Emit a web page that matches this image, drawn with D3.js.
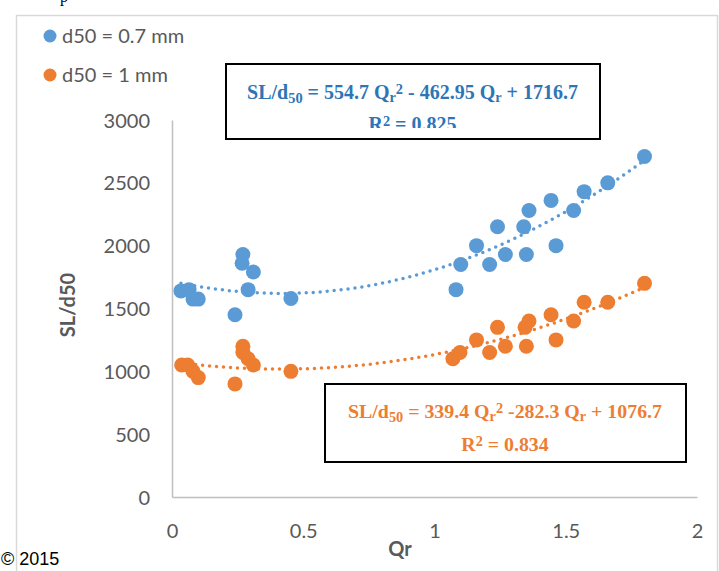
<!DOCTYPE html>
<html><head><meta charset="utf-8">
<script src="https://cdn.jsdelivr.net/npm/d3@7"></script>
<style>
html,body{margin:0;padding:0;background:#fff;}
svg{display:block;}
</style></head>
<body>
<svg id="chart" width="719" height="571"></svg>
<script>
// ---- data ----
const series = ["d50 = 0.7 mm", "d50 = 1 mm"];
const qr07 = [0.034,0.065,0.08,0.10,0.24,0.27,0.267,0.31,0.29,0.453,1.082,1.10,1.16,1.21,1.27,1.24,1.35,1.34,1.36,1.444,1.463,1.53,1.57,1.66,1.80];
const sl07 = [1640,1650,1575,1575,1450,1930,1860,1790,1650,1580,1650,1850,2000,1850,1930,2150,1930,2150,2280,2360,2000,2280,2430,2500,2710];
const qr10 = [0.037,0.06,0.08,0.10,0.24,0.27,0.27,0.29,0.31,0.453,1.07,1.097,1.16,1.21,1.27,1.24,1.35,1.345,1.36,1.444,1.463,1.53,1.57,1.66,1.80];
const sl10 = [1050,1050,1000,950,900,1200,1150,1100,1050,1000,1100,1150,1250,1150,1200,1350,1200,1350,1400,1450,1250,1400,1550,1550,1700];
// trendline coefficients (a, b, c) for a*x^2 + b*x + c, as printed on chart
const fit07 = [554.7, -462.95, 1716.7];
const fit10 = [339.4, -282.3, 1076.7];
const xTicks = [0, 0.5, 1, 1.5, 2];
const yTicks = [0, 500, 1000, 1500, 2000, 2500, 3000];
const colors = ["#5B9BD5", "#ED7D31"];
const eqColors = ["#2E75B6", "#ED7D31"];

const svg = d3.select("#chart");
const x = d3.scaleLinear().domain([0, 2]).range([172, 697]);
const y = d3.scaleLinear().domain([0, 3000]).range([497, 120]);

// chart area border
svg.append("rect").attr("x",16.5).attr("y",15.5).attr("width",701).attr("height",600)
  .attr("fill","#fff").attr("stroke","#d9d9d9").attr("stroke-width",1.5);

// partly visible text above the chart
svg.append("text").attr("x",60).attr("y",2).attr("font-family","Liberation Serif")
  .attr("font-size",16).attr("fill","#000").text("p");

// axes
const xAxis = d3.axisBottom(x).tickValues(xTicks).tickSize(0).tickPadding(0).tickFormat(d3.format("~g"));
const gx = svg.append("g").attr("transform","translate(0,497)").call(xAxis);
gx.select(".domain").attr("stroke","#bfbfbf").attr("stroke-width",1.5);
gx.selectAll("text").attr("font-family","Lato").attr("font-size",20).attr("fill","#595959").attr("dy",null).attr("y",41);

const yAxis = d3.axisLeft(y).tickValues(yTicks).tickSize(0).tickPadding(0).tickFormat(d3.format("d"));
const gy = svg.append("g").attr("transform","translate(172,0)").call(yAxis);
gy.select(".domain").attr("stroke","#bfbfbf").attr("stroke-width",1.5);
gy.selectAll("text").attr("font-family","Lato").attr("font-size",20).attr("fill","#595959").attr("x",-22).attr("dy","0.35em");

// axis titles
svg.append("text").attr("transform","translate(75,305) rotate(-90)").attr("text-anchor","middle")
  .attr("font-family","Lato").attr("font-weight","bold").attr("font-size",20).attr("fill","#595959").text("SL/d50");
svg.append("text").attr("x",400).attr("y",556).attr("text-anchor","middle")
  .attr("font-family","Lato").attr("font-weight","bold").attr("font-size",20).attr("fill","#595959").text("Qr");

// trendlines
const fits = [fit07, fit10];
const dataX = [qr07, qr10];
const dataY = [sl07, sl10];
fits.forEach((f, i) => {
  const [lo, hi] = d3.extent(dataX[i]);
  const pts = d3.range(0, 101).map(k => { const q = lo + (hi - lo) * k / 100; return [q, f[0]*q*q + f[1]*q + f[2]]; });
  svg.append("path").datum(pts)
    .attr("d", d3.line().x(d => x(d[0])).y(d => y(d[1])))
    .attr("fill","none").attr("stroke",colors[i]).attr("stroke-width",3.5)
    .attr("stroke-linecap","round").attr("stroke-dasharray","0 7");
});

// points
[1, 0].forEach(i => {
  svg.append("g").selectAll("circle").data(d3.zip(dataX[i], dataY[i])).join("circle")
    .attr("cx", d => x(d[0])).attr("cy", d => y(d[1])).attr("r", 7.5)
    .attr("fill", colors[i]);
});

// legend
series.forEach((s, i) => {
  const ly = 36 + i * 39;
  svg.append("circle").attr("cx",50).attr("cy",ly).attr("r",6.5).attr("fill",colors[i]);
  svg.append("text").attr("x",62).attr("y",ly).attr("dy","0.36em").attr("font-family","Lato")
    .attr("font-size",20).attr("fill","#595959").text(s);
});

// equation boxes
function eqBox(i, bx, by, bw, bh, cx, b1, b2, coeffs, r2, targetW, clipY) {
  svg.append("rect").attr("x",bx).attr("y",by).attr("width",bw).attr("height",bh)
    .attr("fill","#fff").attr("stroke","#000").attr("stroke-width",2);
  const clipId = "clip" + i;
  svg.append("clipPath").attr("id",clipId).append("rect")
    .attr("x",bx).attr("y",by).attr("width",bw).attr("height",clipY - by);
  const g = svg.append("g").attr("clip-path",`url(#${clipId})`)
    .attr("font-family","Liberation Serif").attr("font-weight","bold").attr("fill",eqColors[i]);
  const t1 = g.append("text").attr("x",cx).attr("y",b1).attr("text-anchor","middle").attr("font-size",19);
  t1.append("tspan").text("SL/d");
  t1.append("tspan").attr("font-size","0.72em").attr("dy","4").text("50");
  t1.append("tspan").attr("dy","-4").text(" = " + coeffs[0] + " Q");
  t1.append("tspan").attr("font-size","0.72em").attr("dy","3").text("r");
  t1.append("tspan").attr("font-size","0.72em").attr("dy","-8").text("2");
  t1.append("tspan").attr("dy","5").text(coeffs[1] + " Q");
  t1.append("tspan").attr("font-size","0.72em").attr("dy","3").text("r");
  t1.append("tspan").attr("dy","-3").text(" + " + coeffs[2]);
  const w = t1.node().getComputedTextLength();
  t1.attr("font-size", 19 * targetW / w);
  const t2 = g.append("text").attr("x",cx).attr("y",b2).attr("text-anchor","middle").attr("font-size",19 * targetW / w);
  t2.append("tspan").text("R");
  t2.append("tspan").attr("font-size","0.72em").attr("dy","-5").text("2");
  t2.append("tspan").attr("dy","5").text(" = " + r2);
}
eqBox(0, 226, 64, 374, 75, 412.5, 99, 131, ["554.7", " - 462.95", "1716.7"], "0.825", 331, 128);
eqBox(1, 325, 384, 361, 78, 505, 418, 451, ["339.4", " -282.3", "1076.7"], "0.834", 314, 462);

// copyright
svg.append("text").attr("x",1).attr("y",565).attr("font-family","Liberation Sans Narrow, Liberation Sans")
  .attr("font-size",18).attr("fill","#000").text("© 2015");
</script>
</body></html>
